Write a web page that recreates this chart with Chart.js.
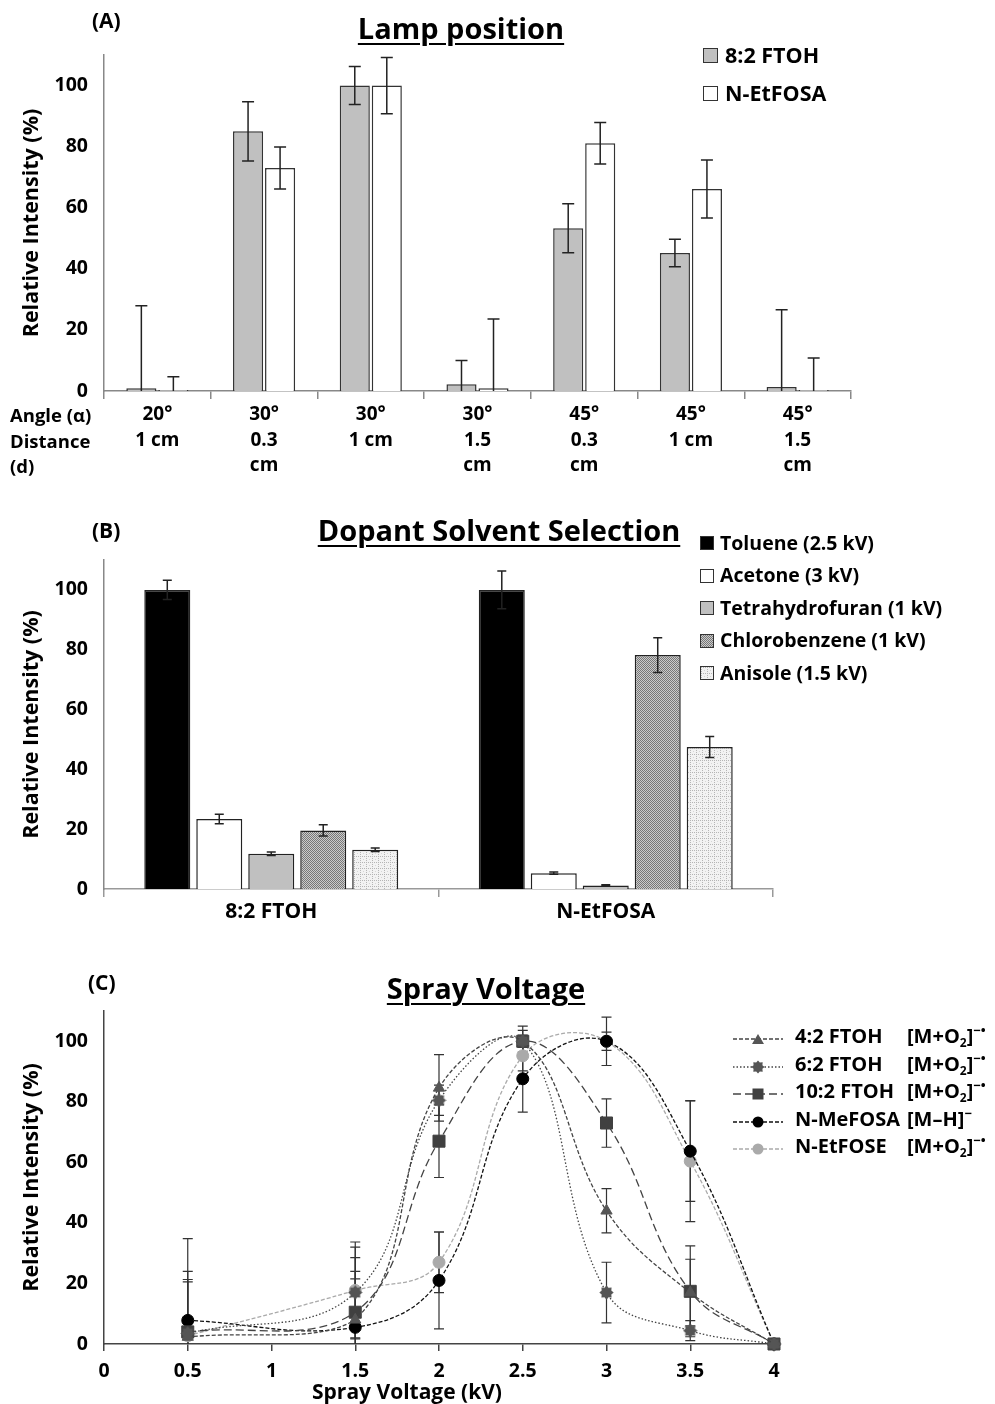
<!DOCTYPE html>
<html>
<head>
<meta charset="utf-8">
<script src="https://cdn.jsdelivr.net/npm/chart.js@4.4.0/dist/chart.umd.min.js"></script>
<style>
  body { margin: 0; background: #fff; }
  #page { position: relative; width: 995px; height: 1404px; overflow: hidden; font-family: "Open Sans", sans-serif; font-weight: 700; color: #000; }
  canvas { position: absolute; left: 0; }
  .t { position: absolute; white-space: nowrap; }
  .panel { font-size: 21px; line-height: 26px; }
  .title { font-size: 29px; line-height: 36px; text-decoration: underline; text-decoration-thickness: 2px; text-underline-offset: 4px; transform: translateX(-50%); }
  .sw { position: absolute; box-sizing: border-box; border: 1.5px solid #333; }
  sub { font-size: 0.6em; vertical-align: -0.3em; line-height: 0; }
  sup { font-size: 0.65em; vertical-align: 0.65em; line-height: 0; }
</style>
</head>
<body>
<div id="page">
  <canvas id="chartA" width="995" height="485" style="top:0"></canvas>
  <canvas id="chartB" width="995" height="440" style="top:490px"></canvas>
  <canvas id="chartC" width="995" height="459" style="top:945px"></canvas>

  <div class="t panel" style="left:92px;top:7px">(A)</div>
  <div class="t title" style="left:461px;top:10px">Lamp position</div>
  <div class="t" style="left:10px;top:402px;font-size:18.5px;line-height:25.5px">Angle (α)<br>Distance<br>(d)</div>

  <div class="t panel" style="left:92px;top:517px">(B)</div>
  <div class="t title" style="left:499px;top:512px">Dopant Solvent Selection</div>

  <div class="t panel" style="left:88px;top:969px">(C)</div>
  <div class="t title" style="left:486px;top:970px">Spray Voltage</div>
  <div class="t" style="left:407px;top:1378px;font-size:21px;line-height:26px;transform:translateX(-50%)">Spray Voltage (kV)</div>

  <div id="legendA"></div>
  <div id="legendB"></div>
  <div id="legendC"></div>
</div>

<script>
// ---- (A) lamp position ----
const lampLabels = [['20°', '1 cm'], ['30°', '0.3', 'cm'], ['30°', '1 cm'], ['30°', '1.5', 'cm'],
                    ['45°', '0.3', 'cm'], ['45°', '1 cm'], ['45°', '1.5', 'cm']];
const lampSeries = ['8:2 FTOH', 'N-EtFOSA'];
const lampFtoh = [0.9, 85, 100, 2.2, 53.3, 45.2, 1.3];
const lampFtohErr = [27, 9.7, 6.2, 7.8, 8, 4.5, 25.3];
const lampEtfosa = [0.3, 73, 100, 0.9, 81.1, 66.1, 0.3];
const lampEtfosaErr = [4.4, 6.9, 9.2, 22.7, 6.8, 9.5, 10.5];

// ---- (B) dopant solvent ----
const dopantLabels = ['8:2 FTOH', 'N-EtFOSA'];
const dopantNames = ['Toluene (2.5 kV)', 'Acetone (3 kV)', 'Tetrahydrofuran (1 kV)', 'Chlorobenzene (1 kV)', 'Anisole (1.5 kV)'];
const toluene = [100, 100];
const tolueneErr = [3.2, 6.3];
const acetone = [23.4, 5.3];
const acetoneErr = [1.6, 0.4];
const thf = [11.8, 1.2];
const thfErr = [0.6, 0.2];
const chlorobenzene = [19.6, 78.2];
const chlorobenzeneErr = [1.9, 5.8];
const anisole = [13.1, 47.5];
const anisoleErr = [0.6, 3.5];

// ---- (C) spray voltage ----
const voltages = [0.5, 1.5, 2, 2.5, 3, 3.5, 4];
const ftoh42 = [2.3, 8, 84.6, 100, 44, 17, 0];
const ftoh42Err = [19, 16, 11, 3.6, 7.3, 11, 0];
const ftoh62 = [3.5, 17, 80.5, 100, 17, 4.4, 0];
const ftoh62Err = [17, 15, 5, 2, 10, 3.3, 0];
const ftoh102 = [4, 10.5, 67, 100, 73, 17.4, 0];
const ftoh102Err = [20, 18, 12, 5, 8, 15, 0];
const mefosa = [7.8, 5.5, 21, 87.6, 100, 63.7, 0];
const mefosaErr = [27, 16, 16, 11, 3, 16.6, 0];
const etfose = [2.7, 17.7, 27, 95.2, 100, 60.4, 0];
const etfoseErr = [3, 16, 10, 5, 8, 20, 0];

Chart.defaults.font.family = '"Open Sans", sans-serif';
Chart.defaults.font.weight = 'bold';
Chart.defaults.font.size = 19.5;
Chart.defaults.color = '#000';
Chart.defaults.animation = false;
Chart.defaults.plugins.legend.display = false;
Chart.defaults.plugins.tooltip.enabled = false;

// error bars drawn from dataset.errors through the y scale
const errorBars = {
  id: 'errorBars',
  draw(chart, opts) {
    const { ctx } = chart;
    const y = chart.scales.y;
    ctx.save();
    ctx.lineWidth = opts.width || 1.5;
    ctx.strokeStyle = opts.color || '#222';
    chart.data.datasets.forEach((ds, i) => {
      if (!ds.errors) return;
      chart.getDatasetMeta(i).data.forEach((el, j) => {
        const e = ds.errors[j];
        if (!e) return;
        const raw = ds.data[j];
        const v = typeof raw === 'object' ? raw.y : raw;
        const top = y.getPixelForValue(v + e);
        const low = v - e;
        const bot = y.getPixelForValue(Math.max(low, 0));
        const c = opts.cap / 2;
        ctx.beginPath();
        ctx.moveTo(el.x, top); ctx.lineTo(el.x, bot);
        ctx.moveTo(el.x - c, top); ctx.lineTo(el.x + c, top);
        if (low > 0) { ctx.moveTo(el.x - c, bot); ctx.lineTo(el.x + c, bot); }
        ctx.stroke();
      });
    });
    ctx.restore();
  },
  beforeDatasetsDraw(chart, args, opts) { if (opts.behind) this.draw(chart, opts); },
  afterDatasetsDraw(chart, args, opts) { if (!opts.behind) this.draw(chart, opts); }
};

function yAxis(color) {
  return {
    min: 0, max: 110,
    afterBuildTicks: s => { s.ticks = s.ticks.filter(t => t.value <= 100); },
    afterFit: s => { s.width = 104; },
    ticks: { stepSize: 20, padding: 16 },
    grid: { display: false, drawTicks: false },
    border: { display: true, color: color, width: 1.5 },
    title: { display: true, text: 'Relative Intensity (%)', font: { size: 21.5, weight: 'bold' }, padding: { top: 19 } }
  };
}

function pattern(kind) {
  const c = document.createElement('canvas');
  const g = c.getContext('2d');
  if (kind === 'dots') {
    c.width = c.height = 2;
    g.fillStyle = '#cbcbcb'; g.fillRect(0, 0, 2, 2);
    g.fillStyle = '#777'; g.fillRect(0, 0, 1, 1); g.fillRect(1, 1, 1, 1);
  } else {
    c.width = c.height = 6;
    g.fillStyle = '#f2f2f2'; g.fillRect(0, 0, 6, 6);
    g.fillStyle = '#b5b5b5';
    for (let k = 0; k < 6; k += 2) { g.fillRect(k, 0, 1, 1); g.fillRect(0, k, 1, 1); }
    g.fillStyle = '#d6d6d6'; g.fillRect(3, 3, 1, 1);
  }
  return c;
}

// ---------- chart A ----------
new Chart(document.getElementById('chartA'), {
  type: 'bar',
  data: {
    labels: lampLabels,
    datasets: [
      { label: lampSeries[0], data: lampFtoh, errors: lampFtohErr, backgroundColor: '#c0c0c0' },
      { label: lampSeries[1], data: lampEtfosa, errors: lampEtfosaErr, backgroundColor: '#fff' }
    ].map(d => Object.assign(d, { borderColor: '#333', borderWidth: 1.5, categoryPercentage: 0.6, barPercentage: 0.94 }))
  },
  options: {
    responsive: false,
    layout: { padding: { left: 0, right: 144, top: 55, bottom: 0 } },
    scales: {
      x: {
        afterFit: s => { s.height = 94; },
        ticks: { padding: 3, maxRotation: 0, autoSkip: false, font: { size: 19, lineHeight: 1.34 } },
        grid: { drawOnChartArea: false, drawTicks: true, tickLength: 8, color: '#888', lineWidth: 1.5, offset: true },
        border: { color: '#888', width: 1.5 }
      },
      y: yAxis('#888')
    },
    plugins: { errorBars: { cap: 12, width: 1.5, color: '#222' } }
  },
  plugins: [errorBars]
});

// ---------- chart B ----------
const chloroPat = pattern('dots');
const anisolePat = pattern('check');
const ctxB = document.getElementById('chartB').getContext('2d');
const dopantFills = ['#000', '#fff', '#c0c0c0', ctxB.createPattern(chloroPat, 'repeat'), ctxB.createPattern(anisolePat, 'repeat')];
const dopantValues = [toluene, acetone, thf, chlorobenzene, anisole];
const dopantErrors = [tolueneErr, acetoneErr, thfErr, chlorobenzeneErr, anisoleErr];

new Chart(ctxB, {
  type: 'bar',
  data: {
    labels: dopantLabels,
    datasets: dopantNames.map((name, i) => ({
      label: name, data: dopantValues[i], errors: dopantErrors[i],
      backgroundColor: dopantFills[i], borderColor: '#222', borderWidth: 1.5,
      categoryPercentage: 0.777, barPercentage: 0.885
    }))
  },
  options: {
    responsive: false,
    layout: { padding: { left: 0, right: 222, top: 70, bottom: 0 } },
    scales: {
      x: {
        afterFit: s => { s.height = 41; },
        ticks: { padding: 2, maxRotation: 0, autoSkip: false, font: { size: 21 } },
        grid: { drawOnChartArea: false, drawTicks: true, tickLength: 8, color: '#999', lineWidth: 1.5, offset: true },
        border: { color: '#999', width: 1.5 }
      },
      y: yAxis('#888')
    },
    plugins: { errorBars: { cap: 9, width: 1.5, color: '#222' } }
  },
  plugins: [errorBars]
});

// ---------- chart C ----------
function starCanvas(color) {
  const c = document.createElement('canvas');
  c.width = c.height = 15;
  const g = c.getContext('2d');
  g.fillStyle = color;
  g.beginPath();
  for (let k = 0; k < 16; k++) {
    const r = k % 2 ? 5.2 : 7.2, a = k * Math.PI / 8;
    g.lineTo(7.5 + r * Math.cos(a), 7.5 + r * Math.sin(a));
  }
  g.closePath(); g.fill();
  return c;
}

const sprayNames = ['4:2 FTOH', '6:2 FTOH', '10:2 FTOH', 'N-MeFOSA', 'N-EtFOSE'];
const sprayIons = ['[M+O<sub>2</sub>]<sup>−•</sup>', '[M+O<sub>2</sub>]<sup>−•</sup>', '[M+O<sub>2</sub>]<sup>−•</sup>', '[M–H]<sup>−</sup>', '[M+O<sub>2</sub>]<sup>−•</sup>'];
const sprayValues = [ftoh42, ftoh62, ftoh102, mefosa, etfose];
const sprayErrors = [ftoh42Err, ftoh62Err, ftoh102Err, mefosaErr, etfoseErr];
const sprayStyles = [
  { line: '#444', fill: '#555', dash: [4, 2], point: 'triangle', r: 6.5 },
  { line: '#444', fill: '#555', dash: [1.5, 2], point: starCanvas('#555'), r: 7 },
  { line: '#444', fill: '#404040', dash: [8, 4], point: 'rect', r: 8.5 },
  { line: '#111', fill: '#000', dash: [4, 2], point: 'circle', r: 6 },
  { line: '#aaa', fill: '#aaa', dash: [4, 2], point: 'circle', r: 6 }
];

new Chart(document.getElementById('chartC'), {
  type: 'line',
  data: {
    datasets: sprayNames.map((name, i) => ({
      label: name,
      data: voltages.map((v, j) => ({ x: v, y: sprayValues[i][j] })),
      errors: sprayErrors[i],
      borderColor: sprayStyles[i].line, borderDash: sprayStyles[i].dash, borderWidth: 1.3,
      pointStyle: sprayStyles[i].point, pointRadius: sprayStyles[i].r,
      pointBackgroundColor: sprayStyles[i].fill, pointBorderColor: sprayStyles[i].fill, pointBorderWidth: 1,
      tension: 0.4, fill: false, clip: false
    }))
  },
  options: {
    responsive: false,
    layout: { padding: { left: 0, right: 221, top: 66, bottom: 0 } },
    scales: {
      x: {
        type: 'linear', min: 0, max: 4,
        afterFit: s => { s.height = 60; },
        ticks: { stepSize: 0.5, padding: 9, callback: v => String(Number(v)) },
        grid: { drawOnChartArea: false, drawTicks: true, tickLength: 7, color: '#444', lineWidth: 1.5 },
        border: { color: '#444', width: 1.5 }
      },
      y: yAxis('#444')
    },
    plugins: { errorBars: { cap: 10, width: 1.2, color: '#333', behind: true } }
  },
  plugins: [errorBars]
});

// ---------- legends ----------
function addText(parent, html, left, cy, size) {
  const d = document.createElement('div');
  d.className = 't';
  d.style.cssText = `left:${left}px;top:${cy - size * 0.68}px;font-size:${size}px;line-height:${size * 1.36}px`;
  d.innerHTML = html;
  parent.appendChild(d);
}
function addSwatch(parent, left, cy, size, bg) {
  const s = document.createElement('div');
  s.className = 'sw';
  s.style.cssText += `left:${left}px;top:${cy - size / 2}px;width:${size}px;height:${size}px;background:${bg}`;
  parent.appendChild(s);
}

const legA = document.getElementById('legendA');
const lampFills = ['#c0c0c0', '#fff'];
[55, 93].forEach((cy, i) => {
  addSwatch(legA, 703, cy, 15, lampFills[i]);
  addText(legA, lampSeries[i], 725, cy, 21.5);
});

const legB = document.getElementById('legendB');
const swatchBg = ['#000', '#fff', '#c0c0c0', `url(${chloroPat.toDataURL()})`, `url(${anisolePat.toDataURL()})`];
dopantNames.forEach((name, i) => {
  const cy = 543 + i * 32.5;
  addSwatch(legB, 700, cy, 14, swatchBg[i]);
  addText(legB, name, 720, cy, 19.5);
});

const legC = document.getElementById('legendC');
function markerSvg(st) {
  const p = st.point;
  if (p === 'triangle') return `<polygon points="25,2 31,12 19,12" fill="${st.fill}"/>`;
  if (p === 'rect') return `<rect x="19.5" y="1.5" width="11" height="11" fill="${st.fill}"/>`;
  if (p === 'circle') return `<circle cx="25" cy="7" r="5.5" fill="${st.fill}"/>`;
  const pts = [];
  for (let k = 0; k < 16; k++) {
    const r = k % 2 ? 4.8 : 6.6, a = k * Math.PI / 8;
    pts.push((25 + r * Math.cos(a)).toFixed(1) + ',' + (7 + r * Math.sin(a)).toFixed(1));
  }
  return `<polygon points="${pts.join(' ')}" fill="${st.fill}"/>`;
}
sprayNames.forEach((name, i) => {
  const cy = 1036 + i * 27.5;
  const st = sprayStyles[i];
  const svg = document.createElement('div');
  svg.className = 't';
  svg.style.cssText = `left:733px;top:${cy - 7}px;width:50px;height:14px`;
  svg.innerHTML = `<svg width="50" height="14"><line x1="0" y1="7" x2="50" y2="7" stroke="${st.line}" stroke-width="1.3" stroke-dasharray="${st.dash.join(' ')}"/>${markerSvg(st)}</svg>`;
  legC.appendChild(svg);
  addText(legC, name, 795, cy, 20);
  addText(legC, sprayIons[i], 907, cy, 20);
});
</script>
</body>
</html>
